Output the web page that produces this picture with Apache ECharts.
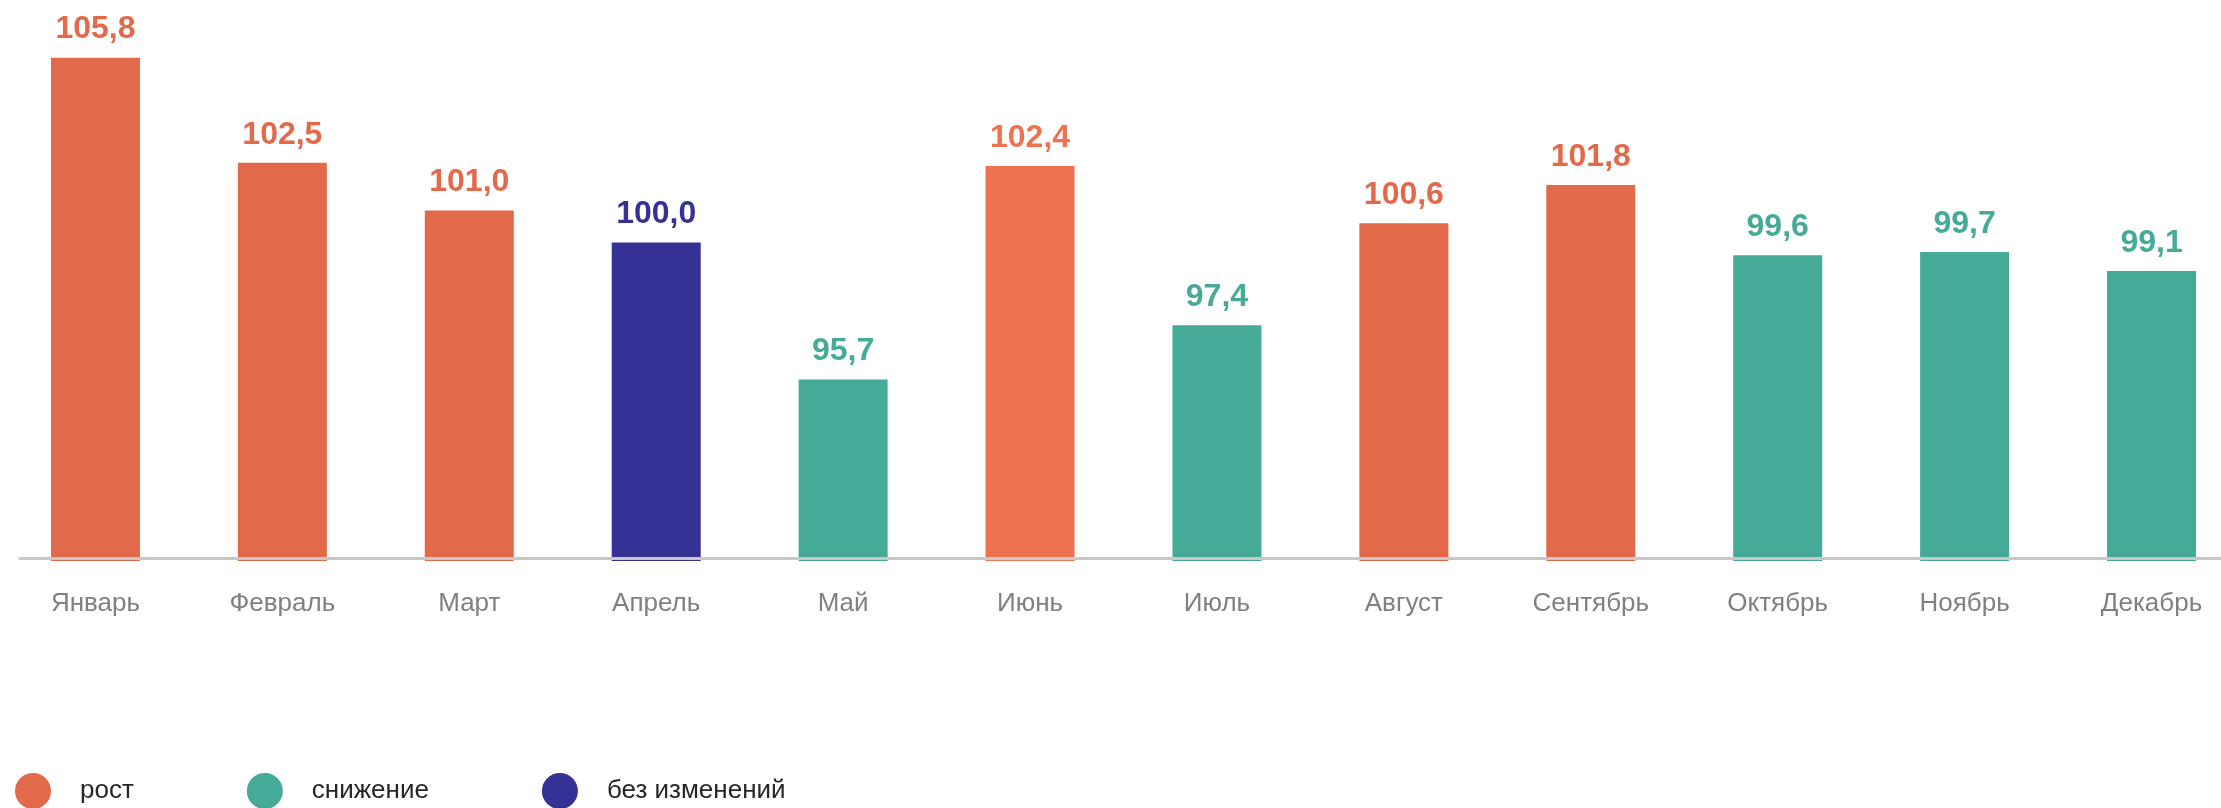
<!DOCTYPE html>
<html>
<head>
<meta charset="utf-8">
<script src="https://cdn.jsdelivr.net/npm/echarts@6/dist/echarts.min.js"></script>
<style>
html,body{margin:0;padding:0;background:#fff;overflow:hidden;}
#chart{width:2245px;height:808px;}
</style>
</head>
<body>
<div id="chart"></div>
<script>
const months = ['Январь','Февраль','Март','Апрель','Май','Июнь','Июль','Август','Сентябрь','Октябрь','Ноябрь','Декабрь'];
const values = [105.8, 102.5, 101.0, 100.0, 95.7, 102.4, 97.4, 100.6, 101.8, 99.6, 99.7, 99.1];
const status = ['рост','рост','рост','без изменений','снижение','рост','снижение','рост','рост','снижение','снижение','снижение'];
const groups = ['рост','снижение','без изменений'];

const groupColors = {'рост':'#E2694A','снижение':'#46AA98','без изменений':'#363194'};
const itemColorOverride = {5:'#EF7250'};
const FONT = '"Liberation Sans", Arial, sans-serif';

const series = groups.map(g => ({
  name: g,
  type: 'bar',
  stack: 'm',
  barWidth: 89,
  itemStyle: {color: groupColors[g]},
  label: {
    show: true,
    position: 'top',
    distance: 12,
    fontFamily: FONT,
    fontWeight: 'bold',
    fontSize: 32,
    color: groupColors[g],
    formatter: p => p.value == null ? '' : Number(p.value).toFixed(1).replace('.', ',')
  },
  data: values.map((v, i) => {
    if (status[i] !== g) return null;
    if (itemColorOverride[i]) return {value: v, itemStyle: {color: itemColorOverride[i]}, label: {color: itemColorOverride[i]}};
    return v;
  })
}));

// axis baseline drawn in a separate helper grid
series.push({type:'line', xAxisIndex:1, yAxisIndex:1, data:[], silent:true});

const chart = echarts.init(document.getElementById('chart'));
chart.setOption({
  animation: false,
  backgroundColor: '#fff',
  grid: [
    {left: 2, right: 0, top: 19.4, bottom: 247},
    {left: 20, right: 24, top: 100, bottom: 250}
  ],
  xAxis: [
    {
      type: 'category',
      data: months,
      gridIndex: 0,
      axisLine: {show: false},
      axisTick: {show: false},
      axisLabel: {color: '#808080', fontSize: 26, fontFamily: FONT, margin: 30}
    },
    {
      type: 'value', gridIndex: 1, min: 0, max: 1,
      axisLine: {show: true, lineStyle: {color: '#c8c8c8', width: 3}},
      axisTick: {show: false}, axisLabel: {show: false}, splitLine: {show: false},
      z: 5
    }
  ],
  yAxis: [
    {type: 'value', gridIndex: 0, min: 90, max: 107, show: false, splitLine: {show: false}},
    {type: 'value', gridIndex: 1, min: 0, max: 1, show: false}
  ],
  legend: {
    data: groups,
    icon: 'circle',
    itemWidth: 36,
    itemHeight: 36,
    itemGap: 113,
    left: 10,
    top: 768,
    textStyle: {fontSize: 26, color: '#262626', fontFamily: FONT, padding: [0, 0, 0, 24]}
  },
  series: series
});
</script>
</body>
</html>
